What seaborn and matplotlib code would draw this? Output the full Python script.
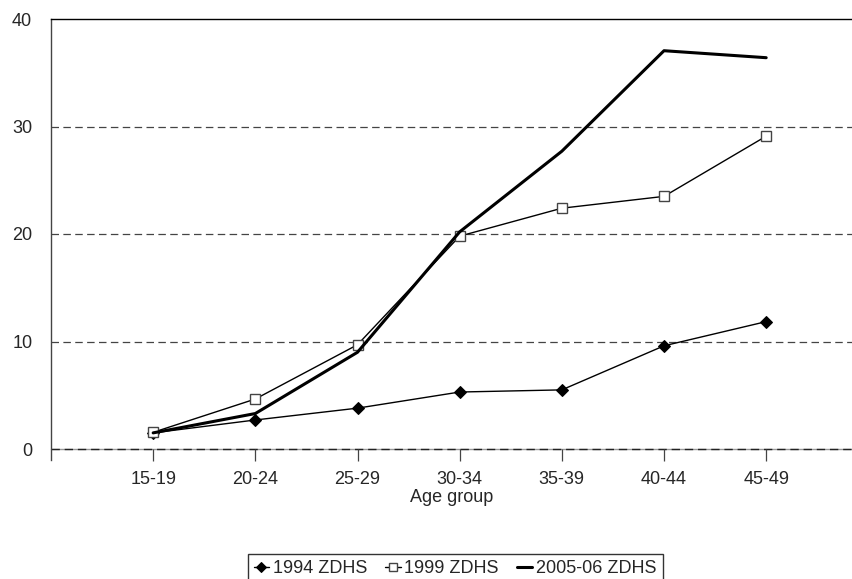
"""Line chart of percentage by age group for three ZDHS surveys."""
import pandas as pd
import seaborn as sns
import matplotlib.pyplot as plt

# data
age_groups = ["15-19", "20-24", "25-29", "30-34", "35-39", "40-44", "45-49"]
zdhs_1994 = [1.5, 2.7, 3.8, 5.3, 5.5, 9.6, 11.85]
zdhs_1999 = [1.55, 4.65, 9.7, 19.8, 22.4, 23.5, 29.1]
zdhs_2005 = [1.5, 3.3, 9.0, 20.2, 27.7, 37.05, 36.4]
series_names = ["1994 ZDHS", "1999 ZDHS", "2005-06 ZDHS"]

rows = []
for name, vals in zip(series_names, [zdhs_1994, zdhs_1999, zdhs_2005]):
    for i, v in enumerate(vals):
        rows.append({"pos": i, "value": v, "survey": name})
df = pd.DataFrame(rows)

sns.set_style("white")
plt.rcParams["font.family"] = ["Liberation Sans", "DejaVu Sans"]

fig = plt.figure(figsize=(8.52, 5.79), dpi=100)
ax = fig.add_axes([51 / 852, 130 / 579, 801 / 852, 430 / 579])

# dashed gridlines
for yv in [10, 20, 30]:
    ax.axhline(yv, color="#444444", linestyle=(0, (6, 3.5)), linewidth=0.9, zorder=0)
# baseline at zero: grey line with dark dashes on top
ax.axhline(0, color="#999999", linewidth=1.0, zorder=0, clip_on=False)
ax.axhline(0, color="#222222", linestyle=(0, (6, 3.5)), linewidth=1.0, zorder=0,
           clip_on=False)

styles = {
    "1994 ZDHS": dict(marker="D", markersize=6.2, markerfacecolor="black",
                      markeredgecolor="black", linewidth=1.0),
    "1999 ZDHS": dict(marker="s", markersize=7.5, markerfacecolor="white",
                      markeredgecolor="#444444", markeredgewidth=1.0, linewidth=1.0),
    "2005-06 ZDHS": dict(marker=None, linewidth=2.2),
}
for name in series_names:
    sub = df[df["survey"] == name]
    sns.lineplot(data=sub, x="pos", y="value", ax=ax, color="black",
                 label=name, legend=False, **styles[name])

ax.set_xlim(-1, 6.84)
ax.set_ylim(0, 40)
ax.set_xticks(range(len(age_groups)))
ax.set_xticklabels(age_groups, fontsize=13)
ax.set_yticks([0, 10, 20, 30, 40])
ax.tick_params(axis="y", labelsize=13, length=0, pad=13.5)
ax.tick_params(axis="x", direction="out", length=8.5, width=0.9, color="#444444",
               bottom=True, pad=7.5)
ax.set_xlabel("Age group", fontsize=13, labelpad=0.8)
ax.set_ylabel("")

for side in ["right", "bottom"]:
    ax.spines[side].set_visible(False)
ax.spines["left"].set_color("#444444")
ax.spines["left"].set_linewidth(1.0)
ax.spines["left"].set_bounds(-1.05, 40)
ax.spines["top"].set_color("black")
ax.spines["top"].set_linewidth(1.0)

handles, labels = ax.get_legend_handles_labels()
leg = fig.legend(handles, labels, loc="upper center",
                 bbox_to_anchor=(455 / 852, 1 - 554 / 579),
                 ncol=3, frameon=True, fancybox=False, fontsize=13,
                 handlelength=0.85, handletextpad=0.2, columnspacing=1.0,
                 borderpad=0.35, borderaxespad=0)
leg.get_frame().set_edgecolor("black")
leg.get_frame().set_linewidth(1.0)
for h in leg.legend_handles:
    h.set_markersize(5.5)

fig.savefig("out.png", dpi=100)
